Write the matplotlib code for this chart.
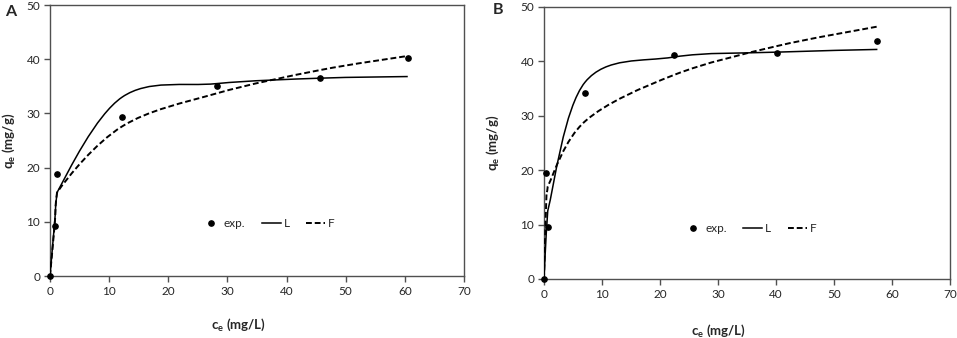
import numpy as np
import matplotlib
matplotlib.use("Agg")
import matplotlib.pyplot as plt
from matplotlib.path import Path
from matplotlib.patches import PathPatch
from matplotlib.lines import Line2D

plt.rcParams['font.family'] = ['Lato', 'DejaVu Sans']
plt.rcParams['mathtext.fontset'] = 'custom'
plt.rcParams['mathtext.rm'] = 'Lato'
plt.rcParams['mathtext.bf'] = 'Lato:bold'
plt.rcParams['mathtext.it'] = 'Lato:italic'

# ---- Data: panel A ----
ce_A = [0, 0.8, 1.2, 12.2, 28.2, 45.7, 60.5]
exp_A = [0, 9.3, 18.9, 29.4, 35.0, 36.5, 40.3]
L_A = [0, 10.0, 15.4, 33.0, 35.5, 36.5, 36.8]
F_A = [0, 9.5, 15.4, 27.6, 33.7, 38.0, 40.6]

# ---- Data: panel B ----
ce_B = [0, 0.4, 0.65, 7.1, 22.4, 40.1, 57.5]
exp_B = [0, 19.4, 9.6, 34.2, 41.1, 41.6, 43.8]
L_B = [0, 8.5, 12.5, 36.2, 40.8, 41.7, 42.2]
F_B = [0, 14.5, 17.0, 29.0, 37.5, 42.8, 46.4]

x_ticks = [0, 10, 20, 30, 40, 50, 60, 70]
y_ticks = [0, 10, 20, 30, 40, 50]

TXT = '#262626'
AXC = '#505050'


def smooth_path(x, y):
    """Excel-style smoothed line (Catmull-Rom cubic Bezier segments)."""
    p = np.column_stack([x, y]).astype(float)
    n = len(p)
    verts = [p[0]]
    codes = [Path.MOVETO]
    for i in range(n - 1):
        p0 = p[i - 1] if i > 0 else p[i]
        p1 = p[i]
        p2 = p[i + 1]
        p3 = p[i + 2] if i + 2 < n else p[i + 1]
        c1 = p1 + (p2 - p0) / 6.0
        c2 = p2 - (p3 - p1) / 6.0
        lo, hi = min(p1[0], p2[0]), max(p1[0], p2[0])
        c1[0] = np.clip(c1[0], lo, hi)
        c2[0] = np.clip(c2[0], lo, hi)
        verts += [c1, c2, p2]
        codes += [Path.CURVE4] * 3
    return Path(verts, codes)


fig = plt.figure(figsize=(9.57, 3.38), dpi=100)
axA = fig.add_axes([0.0522, 0.1834, 0.4326, 0.8018])
axB = fig.add_axes([0.5684, 0.1746, 0.4242, 0.8047])

panels = [
    (axA, ce_A, exp_A, L_A, F_A, (0.527, 0.192), (0.455, -0.152), -0.08),
    (axB, ce_B, exp_B, L_B, F_B, (0.507, 0.184), (0.43, -0.16), -0.106),
]

DASH = (0, (3, 1.5))

for ax, ce, ex, L, F, legpos, xlabpos, ylabx in panels:
    ax.set_xlim(0, 70)
    ax.set_ylim(0, 50)
    ax.set_xticks(x_ticks)
    ax.set_yticks(y_ticks)
    ax.tick_params(direction='out', length=4, width=1.0, colors=AXC,
                   labelcolor=TXT, labelsize=8.5, pad=3)
    for s in ax.spines.values():
        s.set_color(AXC)
        s.set_linewidth(1.0)

    ax.add_patch(PathPatch(smooth_path(ce, L), facecolor='none',
                           edgecolor='black', lw=1.1, zorder=3))
    ax.add_patch(PathPatch(smooth_path(ce, F), facecolor='none',
                           edgecolor='black', lw=1.4, ls=DASH, zorder=3))
    ax.plot(ce, ex, 'o', color='black', ms=3.8, zorder=4, clip_on=False)

    handles = [
        Line2D([], [], marker='o', ls='none', color='black', ms=3.8),
        Line2D([], [], color='black', lw=1.1),
        Line2D([], [], color='black', lw=1.4, ls=DASH),
    ]
    ax.legend(handles, ['exp.', 'L', 'F'], ncol=3, frameon=False,
              loc='center', bbox_to_anchor=legpos, fontsize=8.5,
              handlelength=1.6, handletextpad=0.25, columnspacing=1.4,
              labelcolor=TXT)

    ax.set_xlabel(r'$\mathbf{c_e}$ (mg/L)', fontsize=9.5, fontweight='bold',
                  color=TXT)
    ax.xaxis.set_label_coords(*xlabpos)
    ax.set_ylabel(r'$\mathbf{q_e}$ (mg/g)', fontsize=9.5, fontweight='bold',
                  color=TXT)
    ax.yaxis.set_label_coords(ylabx, 0.5)

fig.text(0.005, 0.985, 'A', fontsize=11.5, fontweight='bold', va='top',
         ha='left', color=TXT)
fig.text(0.515, 0.991, 'B', fontsize=11.5, fontweight='bold', va='top',
         ha='left', color=TXT)

fig.savefig('out.png', dpi=100)
